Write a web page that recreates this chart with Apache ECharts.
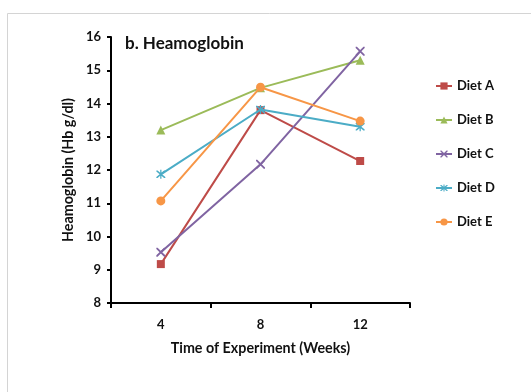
<!DOCTYPE html>
<html><head><meta charset="utf-8">
<script src="https://cdn.jsdelivr.net/npm/echarts@6/dist/echarts.min.js"></script>
<style>html,body{margin:0;padding:0;background:#fff}#c{width:531px;height:392px}</style>
</head><body><div id="c"></div>
<script>
var categories = ['4', '8', '12'];
var dietA = [9.17, 13.8, 12.27];
var dietB = [13.2, 14.47, 15.3];
var dietC = [9.53, 12.17, 15.57];
var dietD = [11.87, 13.82, 13.3];
var dietE = [11.07, 14.49, 13.47];
var seriesNames = ['Diet A', 'Diet B', 'Diet C', 'Diet D', 'Diet E'];
var yTicks = [8, 9, 10, 11, 12, 13, 14, 15, 16];

var FONT = 'Lato';
var xSym = 'path://M0,0 L1.4,0 L10,8.6 L10,10 L8.6,10 L0,1.4 Z M8.6,0 L10,0 L10,1.4 L1.4,10 L0,10 L0,8.6 Z';
var astSym = 'path://M0,0 L1.4,0 L10,8.6 L10,10 L8.6,10 L0,1.4 Z M8.6,0 L10,0 L10,1.4 L1.4,10 L0,10 L0,8.6 Z M4.3,-1 L5.7,-1 L5.7,11 L4.3,11 Z';
var colors = ['#BE4B48', '#9BBB59', '#8064A2', '#4BACC6', '#F79646'];
var symbols = ['rect', 'triangle', xSym, astSym, 'circle'];
var sizes = [8, 9, 9, 9, 9];
var datas = [dietA, dietB, dietC, dietD, dietE];

var chart = echarts.init(document.getElementById('c'), null, {renderer: 'canvas'});
chart.setOption({
  animation: false,
  backgroundColor: '#fff',
  textStyle: {fontFamily: FONT},
  graphic: [{
    type: 'rect', shape: {x: 7.5, y: 13.5, width: 700, height: 600},
    style: {fill: 'none', stroke: '#d4d4d4', lineWidth: 1}, z: -10
  }, {
    type: 'text', left: 125, top: 35,
    style: {text: 'b. Heamoglobin', font: 'bold 17px ' + FONT, fill: '#111'}
  }],
  grid: {left: 111, right: 121, top: 37, bottom: 89},
  legend: {
    orient: 'vertical', left: 430, top: 74,
    itemWidth: 16, itemHeight: 9, itemGap: 20,
    textStyle: {fontFamily: FONT, fontWeight: 'bold', fontSize: 13, lineHeight: 14, color: '#111'},
    data: seriesNames
  },
  xAxis: {
    type: 'category', data: categories, boundaryGap: true,
    name: 'Time of Experiment (Weeks)', nameLocation: 'middle', nameGap: 38,
    nameTextStyle: {fontFamily: FONT, fontWeight: 'bold', fontSize: 14.3, color: '#111'},
    axisLine: {lineStyle: {color: '#000', width: 2}},
    axisTick: {show: true, length: 5, lineStyle: {color: '#000', width: 2}, alignWithLabel: false},
    axisLabel: {fontFamily: FONT, fontWeight: 'bold', fontSize: 13, color: '#111', margin: 15},
    splitLine: {show: false}
  },
  yAxis: {
    type: 'value', min: yTicks[0], max: yTicks[yTicks.length - 1], interval: 1,
    name: 'Heamoglobin (Hb g/dl)', nameLocation: 'middle', nameGap: 31, nameRotate: 90,
    nameTextStyle: {fontFamily: FONT, fontWeight: 'bold', fontSize: 14.3, color: '#111'},
    axisLine: {show: true, lineStyle: {color: '#000', width: 2}},
    axisTick: {show: true, length: 4, lineStyle: {color: '#000', width: 2}},
    axisLabel: {fontFamily: FONT, fontWeight: 'bold', fontSize: 13, color: '#111', margin: 10},
    splitLine: {show: false}
  },
  series: seriesNames.map(function (n, i) {
    return {
      name: n, type: 'line', data: datas[i],
      symbol: symbols[i], symbolSize: sizes[i],
      lineStyle: {color: colors[i], width: 2},
      itemStyle: {color: colors[i]},
      z: 2 + i
    };
  })
});
</script></body></html>
